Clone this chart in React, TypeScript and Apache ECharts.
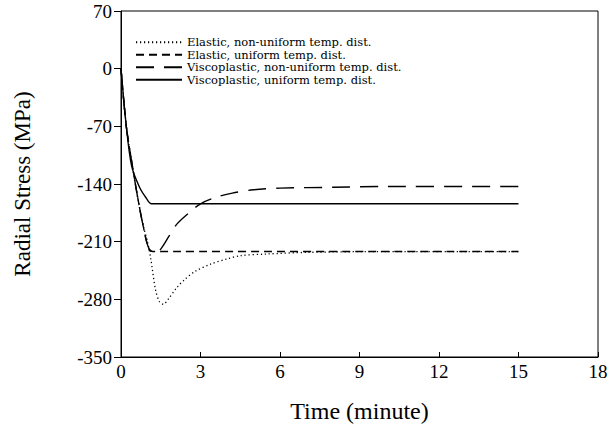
import React, { useEffect, useRef } from "react";
import * as echarts from "echarts";

const seriesNames = [
  "Elastic, non-uniform temp. dist.",
  "Elastic, uniform temp. dist.",
  "Viscoplastic, non-uniform temp. dist.",
  "Viscoplastic, uniform temp. dist.",
];

const elasticNonUniformT = [0, 0.2, 0.45, 0.65, 0.85, 1.0, 1.13, 1.3, 1.45, 1.6, 1.8, 2.1, 2.4, 2.8, 3.4, 4, 4.5, 5.5, 7, 10, 15];
const elasticNonUniformV = [0, -70, -122, -160, -192, -210, -232, -268, -283, -286, -279, -266, -256, -246, -237, -231, -227, -225, -223, -222, -222];

const elasticUniformT = [0, 0.2, 0.45, 0.65, 0.85, 1.05, 1.2, 15];
const elasticUniformV = [0, -70, -122, -160, -193, -219, -222, -222];

const viscoNonUniformT = [0, 0.2, 0.45, 0.65, 0.85, 1.05, 1.3, 1.5, 1.8, 2.1, 2.6, 3.0, 3.5, 4.2, 5, 6, 8, 10, 15];
const viscoNonUniformV = [0, -70, -122, -160, -193, -218, -224, -219, -204, -189, -174, -164, -157, -151, -147, -145, -144, -143, -143];

const viscoUniformT = [0, 0.2, 0.4, 0.7, 0.95, 1.15, 15];
const viscoUniformV = [0, -70, -118, -144, -157, -164, -164];

const xTicks = [0, 3, 6, 9, 12, 15, 18];
const yTicks = [-350, -280, -210, -140, -70, 0, 70];

const pairs = (t: number[], v: number[]) => t.map((x, i) => [x, v[i]]);

export default function App() {
  const ref = useRef<HTMLDivElement>(null);
  useEffect(() => {
    if (!ref.current) return;
    const chart = echarts.init(ref.current, null, { renderer: "svg" });
    const font = "Liberation Serif, Times New Roman, serif";
    const legendFont = "DejaVu Serif, serif";
    const dashes: any[] = [[1.2, 2.8], [8, 5], [18, 10], "solid"];
    const data = [
      pairs(elasticNonUniformT, elasticNonUniformV),
      pairs(elasticUniformT, elasticUniformV),
      pairs(viscoNonUniformT, viscoNonUniformV),
      pairs(viscoUniformT, viscoUniformV),
    ];
    chart.setOption({
      animation: false,
      backgroundColor: "#fff",
      grid: {
        left: 121,
        top: 11,
        right: 17,
        bottom: 75,
        show: true,
        borderColor: "#000",
        borderWidth: 1,
      },
      legend: {
        orient: "vertical",
        left: 135,
        top: 36,
        padding: 0,
        itemWidth: 46,
        itemHeight: 4,
        itemGap: 0,
        data: seriesNames,
        itemStyle: { opacity: 0 },
        textStyle: { fontFamily: legendFont, fontSize: 11.5, color: "#000", lineHeight: 12.5 },
      },
      xAxis: {
        type: "value",
        min: xTicks[0],
        max: xTicks[xTicks.length - 1],
        interval: 3,
        name: "Time (minute)",
        nameLocation: "middle",
        nameGap: 42,
        nameTextStyle: { fontFamily: font, fontSize: 24, color: "#000" },
        axisLine: { onZero: false, lineStyle: { color: "#000", width: 1 } },
        axisTick: { inside: true, length: 5, lineStyle: { color: "#000" } },
        axisLabel: { fontFamily: font, fontSize: 19, color: "#000", margin: 5 },
        splitLine: { show: false },
      },
      yAxis: {
        type: "value",
        min: yTicks[0],
        max: yTicks[yTicks.length - 1],
        interval: 70,
        name: "Radial Stress (MPa)",
        nameLocation: "middle",
        nameGap: 87,
        nameTextStyle: { fontFamily: font, fontSize: 23, color: "#000" },
        axisLine: { onZero: false, lineStyle: { color: "#000", width: 1 } },
        axisTick: { inside: false, length: 7, lineStyle: { color: "#000" } },
        axisLabel: { fontFamily: font, fontSize: 19, color: "#000", margin: 9 },
        splitLine: { show: false },
      },
      series: seriesNames.map((name, i) => ({
        name,
        type: "line",
        data: data[i],
        symbol: "none",
        smooth: 0.3,
        lineStyle: { color: "#000", width: i === 0 ? 1.3 : 1.4, type: dashes[i] },
        itemStyle: { color: "#000" },
      })),
    });
    return () => chart.dispose();
  }, []);
  return <div ref={ref} style={{ width: 615, height: 432, position: "absolute", left: 0, top: 0 }} />;
}
